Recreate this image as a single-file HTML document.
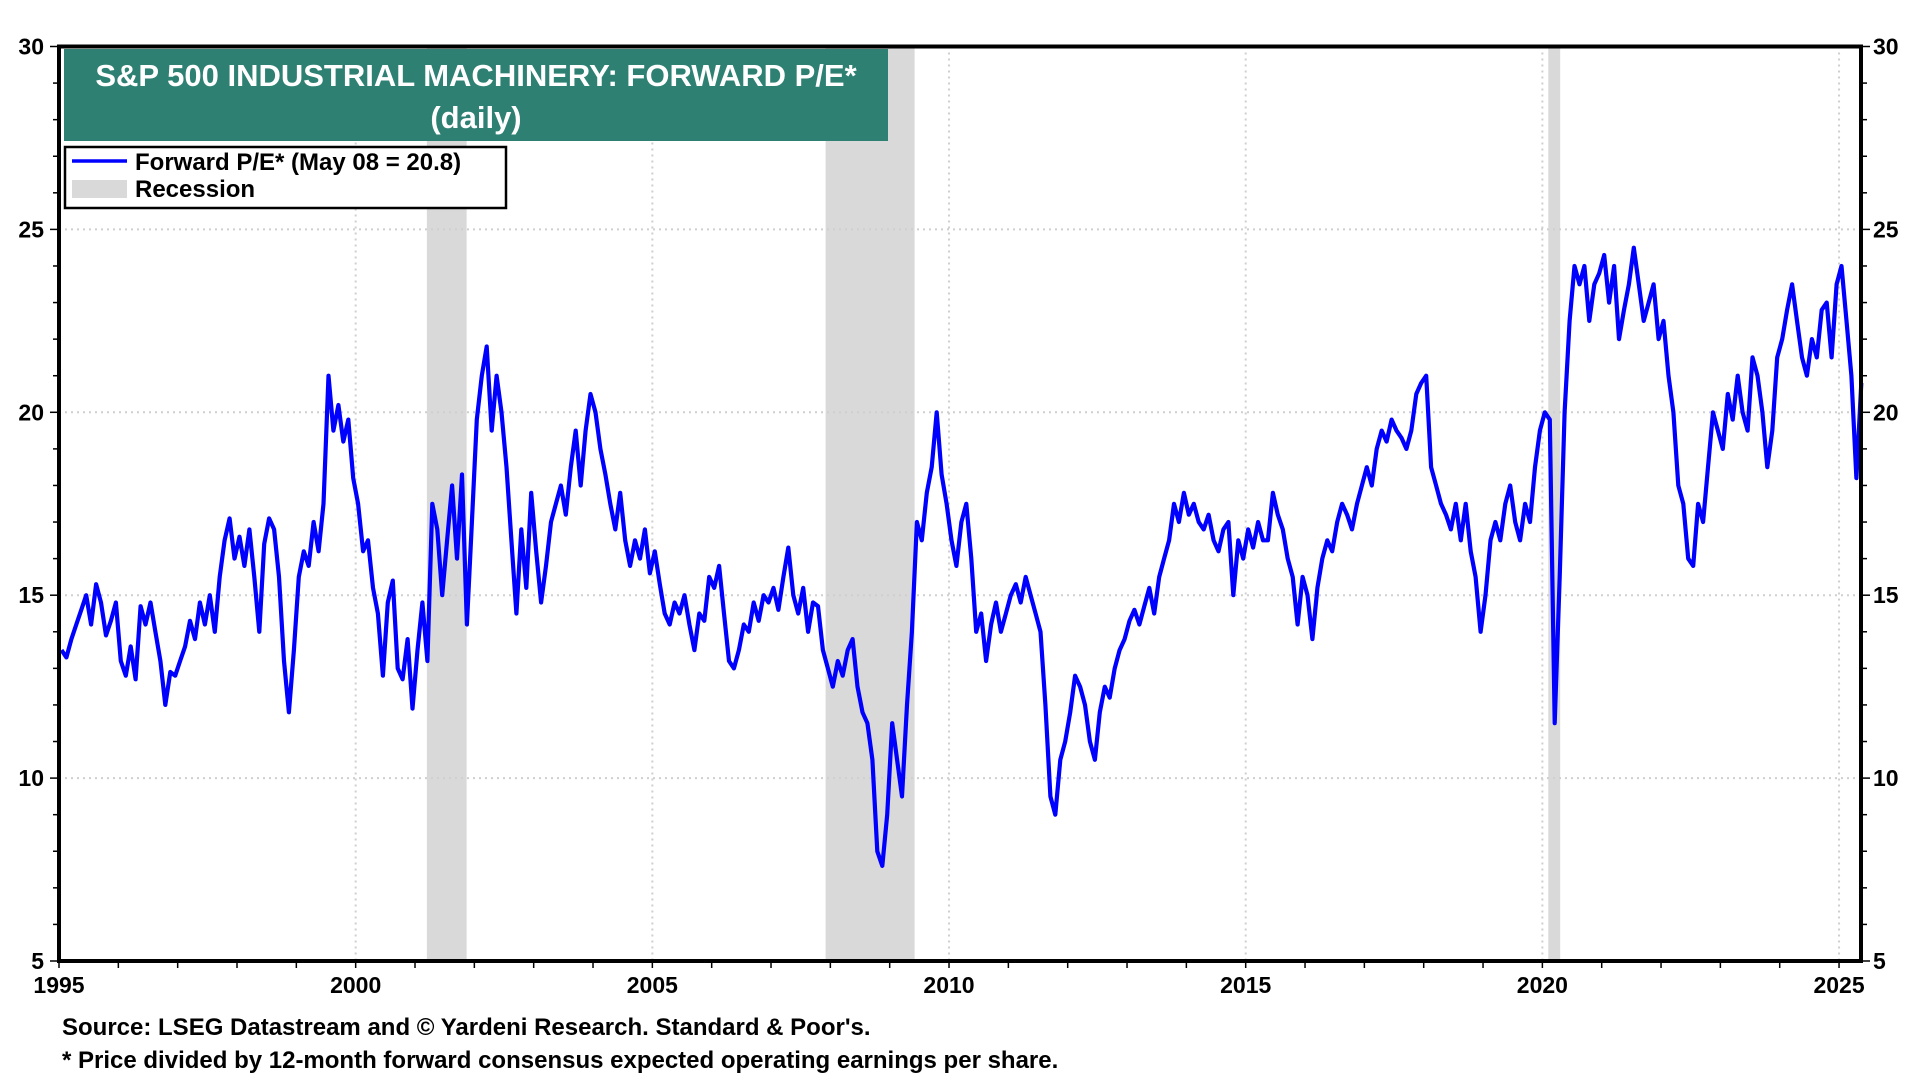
<!DOCTYPE html>
<html><head><meta charset="utf-8"><style>
html,body{margin:0;padding:0;background:#fff;}
svg{display:block;font-family:"Liberation Sans",Arial,sans-serif;font-weight:bold;}
</style></head><body>
<svg id="chart" width="1920" height="1080" viewBox="0 0 1920 1080" xmlns="http://www.w3.org/2000/svg">
<g id="recessions"></g>
<g id="grid"></g>
<g id="series"></g>
<g id="axes"></g>
<g>
<rect x="64" y="49" width="824" height="92" fill="#2e8073"/>
<text x="476" y="86" text-anchor="middle" fill="#fff" font-size="31">S&amp;P 500 INDUSTRIAL MACHINERY: FORWARD P/E*</text>
<text x="476" y="128" text-anchor="middle" fill="#fff" font-size="31">(daily)</text>
</g>
<g>
<rect x="65" y="147" width="441" height="61" fill="#fff" stroke="#000" stroke-width="2.5"/>
<line x1="72" y1="161" x2="127" y2="161" stroke="#0000ff" stroke-width="3.5"/>
<text x="135" y="170" font-size="24">Forward P/E* (May 08 = 20.8)</text>
<rect x="72" y="180" width="55" height="18" fill="#d9d9d9"/>
<text x="135" y="197" font-size="24">Recession</text>
</g>
<text x="62" y="1035" font-size="24">Source: LSEG Datastream and © Yardeni Research. Standard &amp; Poor's.</text>
<text x="62" y="1068" font-size="24">* Price divided by 12-month forward consensus expected operating earnings per share.</text>
</svg>
<script>
const startYear = 1995;
const yTicks = [5, 10, 15, 20, 25, 30];
const xTickYears = [1995, 2000, 2005, 2010, 2015, 2020, 2025];
const recessionStarts = [2001.2, 2007.92, 2020.1];
const recessionEnds = [2001.87, 2009.42, 2020.3];
const peValues = [
13.5,13.3,13.8,14.2,14.6,15.0,14.2,15.3,14.8,13.9,14.3,14.8,
13.2,12.8,13.6,12.7,14.7,14.2,14.8,14.0,13.2,12.0,12.9,12.8,
13.2,13.6,14.3,13.8,14.8,14.2,15.0,14.0,15.5,16.5,17.1,16.0,
16.6,15.8,16.8,15.5,14.0,16.4,17.1,16.8,15.5,13.2,11.8,13.5,
15.5,16.2,15.8,17.0,16.2,17.5,21.0,19.5,20.2,19.2,19.8,18.2,
17.5,16.2,16.5,15.2,14.5,12.8,14.8,15.4,13.0,12.7,13.8,11.9,
13.5,14.8,13.2,17.5,16.8,15.0,16.5,18.0,16.0,18.3,14.2,17.0,
19.8,21.0,21.8,19.5,21.0,20.0,18.5,16.5,14.5,16.8,15.2,17.8,
16.2,14.8,15.8,17.0,17.5,18.0,17.2,18.5,19.5,18.0,19.5,20.5,
20.0,19.0,18.3,17.5,16.8,17.8,16.5,15.8,16.5,16.0,16.8,15.6,
16.2,15.3,14.5,14.2,14.8,14.5,15.0,14.2,13.5,14.5,14.3,15.5,
15.2,15.8,14.5,13.2,13.0,13.5,14.2,14.0,14.8,14.3,15.0,14.8,
15.2,14.6,15.5,16.3,15.0,14.5,15.2,14.0,14.8,14.7,13.5,13.0,
12.5,13.2,12.8,13.5,13.8,12.5,11.8,11.5,10.5,8.0,7.6,9.0,
11.5,10.5,9.5,12.0,14.0,17.0,16.5,17.8,18.5,20.0,18.3,17.5,
16.5,15.8,17.0,17.5,16.0,14.0,14.5,13.2,14.2,14.8,14.0,14.5,
15.0,15.3,14.8,15.5,15.0,14.5,14.0,12.0,9.5,9.0,10.5,11.0,
11.8,12.8,12.5,12.0,11.0,10.5,11.8,12.5,12.2,13.0,13.5,13.8,
14.3,14.6,14.2,14.7,15.2,14.5,15.5,16.0,16.5,17.5,17.0,17.8,
17.2,17.5,17.0,16.8,17.2,16.5,16.2,16.8,17.0,15.0,16.5,16.0,
16.8,16.3,17.0,16.5,16.5,17.8,17.2,16.8,16.0,15.5,14.2,15.5,
15.0,13.8,15.2,16.0,16.5,16.2,17.0,17.5,17.2,16.8,17.5,18.0,
18.5,18.0,19.0,19.5,19.2,19.8,19.5,19.3,19.0,19.5,20.5,20.8,
21.0,18.5,18.0,17.5,17.2,16.8,17.5,16.5,17.5,16.2,15.5,14.0,
15.0,16.5,17.0,16.5,17.5,18.0,17.0,16.5,17.5,17.0,18.5,19.5,
20.0,19.8,11.5,15.5,20.0,22.5,24.0,23.5,24.0,22.5,23.5,23.8,
24.3,23.0,24.0,22.0,22.8,23.5,24.5,23.5,22.5,23.0,23.5,22.0,
22.5,21.0,20.0,18.0,17.5,16.0,15.8,17.5,17.0,18.5,20.0,19.5,
19.0,20.5,19.8,21.0,20.0,19.5,21.5,21.0,20.0,18.5,19.5,21.5,
22.0,22.8,23.5,22.5,21.5,21.0,22.0,21.5,22.8,23.0,21.5,23.5,
24.0,22.5,21.0,18.2,20.8
];
const NS='http://www.w3.org/2000/svg';
const L=59,R=1861,T=46.5,B=961;
const xMin=1995,xMax=2025.37,yMin=5,yMax=30;
function xs(v){return L+(v-xMin)/(xMax-xMin)*(R-L);}
function ys(v){return B-(v-yMin)/(yMax-yMin)*(B-T);}
function mk(tag,attrs,parent){const e=document.createElementNS(NS,tag);for(const k in attrs)e.setAttribute(k,attrs[k]);parent.appendChild(e);return e;}
const rg=document.getElementById('recessions');
for(let i=0;i<recessionStarts.length;i++){
 const r=mk('rect',{x:xs(recessionStarts[i]),y:T,width:xs(recessionEnds[i])-xs(recessionStarts[i]),height:B-T,fill:'#d9d9d9'},rg);
 
 
}
const gg=document.getElementById('grid');
yTicks.forEach(v=>{ if(v>yMin&&v<yMax){const l=mk('line',{x1:L,x2:R,y1:ys(v),y2:ys(v),stroke:'#cfcfcf','stroke-width':2,'stroke-dasharray':'2,4'},gg);
 
 }});
xTickYears.forEach(v=>{ if(v>xMin){const l=mk('line',{x1:xs(v),x2:xs(v),y1:T,y2:B,stroke:'#cfcfcf','stroke-width':2,'stroke-dasharray':'2,4'},gg);
 
 }});
const sg=document.getElementById('series');
let d='';
peValues.forEach((v,i)=>{const x=xs(startYear+i/12+1/24);d+=(i?'L':'M')+x.toFixed(1)+' '+ys(v).toFixed(1);});
const p=mk('path',{d:d,fill:'none',stroke:'#0000ff','stroke-width':4.2,'stroke-linejoin':'round'},sg);


const ag=document.getElementById('axes');
mk('rect',{x:L,y:T,width:R-L,height:B-T,fill:'none',stroke:'#000','stroke-width':4},ag);
for(let v=yMin;v<=yMax;v++){
 const big=yTicks.includes(v);
 mk('line',{x1:L-(big?9:6),x2:L,y1:ys(v),y2:ys(v),stroke:'#000','stroke-width':1.5},ag);
 mk('line',{x1:R,x2:R+(big?9:6),y1:ys(v),y2:ys(v),stroke:'#000','stroke-width':1.5},ag);
}
yTicks.forEach(v=>{
 const t1=mk('text',{x:L-15,y:ys(v)+8,'text-anchor':'end','font-size':23},ag);t1.textContent=v;
 
 
 const t2=mk('text',{x:R+12,y:ys(v)+8,'text-anchor':'start','font-size':23},ag);t2.textContent=v;
 
 
});
for(let y=1995;y<=2025;y++){
 mk('line',{x1:xs(y),x2:xs(y),y1:B,y2:B+7,stroke:'#000','stroke-width':1.5},ag);
}
xTickYears.forEach(v=>{
 const t=mk('text',{x:xs(v),y:B+32,'text-anchor':'middle','font-size':23},ag);t.textContent=v;
 
 
});
</script>
</body></html>
